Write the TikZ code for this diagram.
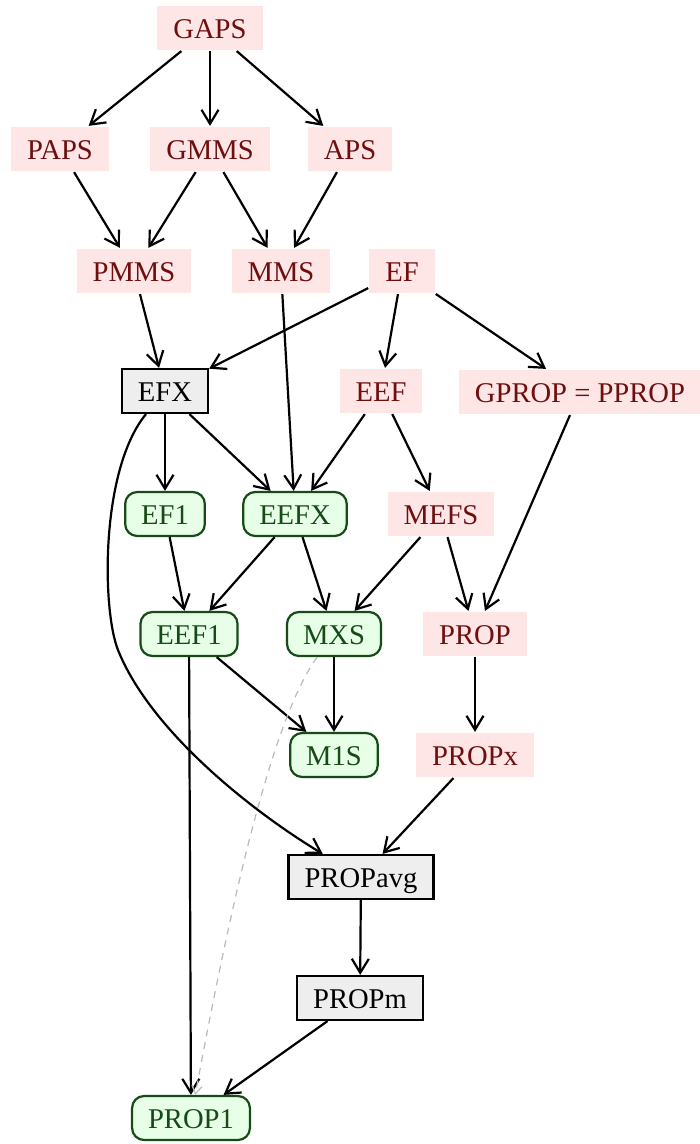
\documentclass[tikz,border=0pt]{standalone}
\usepackage{fontspec}
\setmainfont{Liberation Serif}
\usetikzlibrary{arrows.meta}

\definecolor{clsfill}{RGB}{255,230,230}
\definecolor{clstext}{RGB}{110,14,14}
\definecolor{resfill}{RGB}{230,255,230}
\definecolor{resline}{RGB}{22,74,22}
\definecolor{avgfill}{RGB}{238,238,238}

\begin{document}
\begin{tikzpicture}[x=0.5pt,y=-0.5pt,
		>={Straight Barb[length=7pt,width=8.5pt]}, line width=1.1pt,
		box/.style={minimum height=22pt, inner xsep=8pt, inner ysep=4pt,
			text height=12pt, text depth=1.3pt, font=\fontsize{14.3}{16}\selectfont},
		cls/.style={box, fill=clsfill, text=clstext},
		res/.style={box, draw=resline, fill=resfill, text=resline, rounded corners=6pt},
		avg/.style={box, draw=black, fill=avgfill},
		weak/.style={gray!55, line width=0.6pt, dash pattern=on 3.5pt off 3pt,
			-{Straight Barb[length=4pt,width=5pt]}}]
		\useasboundingbox (0,0) rectangle (700,1144);
		% notions
		\node[cls] (GAPS) at (210,28) {GAPS};
		\node[cls] (PAPS) at (60,149) {PAPS};
		\node[cls] (GMMS) at (210,149) {GMMS};
		\node[cls] (APS) at (350,149) {APS};
		\node[cls] (PMMS) at (134,271) {PMMS};
		\node[cls] (MMS) at (281,271) {MMS};
		\node[cls] (EF) at (402,271) {EF};
		\node[avg] (EFX) at (165,391) {EFX};
		\node[cls] (EEF) at (381,391) {EEF};
		\node[cls] (GPROP) at (580,392) {GPROP = PPROP};
		\node[res] (EF1) at (165,514) {EF1};
		\node[res] (EEFX) at (295,514) {EEFX};
		\node[cls] (MEFS) at (441,514) {MEFS};
		\node[res] (EEF1) at (189,634) {EEF1};
		\node[res] (MXS) at (334,634) {MXS};
		\node[cls] (PROP) at (475,634) {PROP};
		\node[res] (M1S) at (334,755) {M1S};
		\node[cls] (PROPx) at (475,755) {PROPx};
		\node[avg] (PROPavg) at (361,877) {PROPavg};
		\node[avg] (PROPm) at (360,998) {PROPm};
		\node[res] (PROP1) at (191,1118) {PROP1};
		% implications
		\foreach \a/\b in {GAPS/PAPS, GAPS/GMMS, GAPS/APS, PAPS/PMMS, GMMS/PMMS,
				GMMS/MMS, APS/MMS, PMMS/EFX, EF/EFX, EF/EEF, EF/GPROP, MMS/EEFX,
				EFX/EF1, EFX/EEFX, EEF/EEFX, EEF/MEFS, GPROP/PROP, EF1/EEF1,
				EEFX/EEF1, EEFX/MXS, MEFS/MXS, MEFS/PROP, EEF1/M1S, MXS/M1S,
				EEF1/PROP1, PROP/PROPx, PROPx/PROPavg, PROPavg/PROPm, PROPm/PROP1}
			\draw[->] (\a) -- (\b);
		\draw[->] (EFX) .. controls (100,470) and (102,610) .. (118,650)
			.. controls (150,730) and (250,810) .. (PROPavg);
		\draw[weak] (MXS) .. controls (275,715) and (235,880) .. (PROP1);
	\end{tikzpicture}
\end{document}
